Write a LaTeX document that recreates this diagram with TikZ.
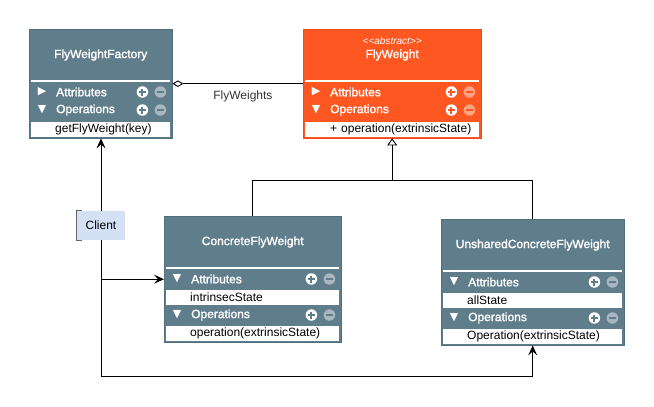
\documentclass[tikz,border=0pt]{standalone}
\usepackage{fontspec}
\setmainfont{Liberation Sans}
\newfontfamily\symbfont{DejaVu Sans}
\newfontfamily\headfont[FakeBold=1.6]{Liberation Sans}
\usepackage{tikz}
\usetikzlibrary{arrows.meta,positioning}
\definecolor{slate}{HTML}{607D8B}
\definecolor{slateedge}{HTML}{52707E}
\definecolor{flame}{HTML}{FF5722}
\definecolor{flameedge}{HTML}{F04A16}
\definecolor{noteblue}{HTML}{D4E1F5}
\definecolor{notebrack}{HTML}{666666}

\tikzstyle{cls} = [rectangle, draw=slateedge, fill=slate, inner sep=0, anchor=north west]
\tikzstyle{clsname} = [text=white, inner sep=0, font=\headfont\fontsize{12}{14}\selectfont]
\tikzstyle{stereo} = [text=white, inner sep=0, font=\itshape\fontsize{10}{11}\selectfont]
\tikzstyle{sec} = [text=white, anchor=west, inner sep=0, font=\headfont\fontsize{12}{14}\selectfont]
\tikzstyle{tri} = [text=white, inner sep=0, font=\symbfont\fontsize{11}{12}\selectfont]
\tikzstyle{sepline} = [draw=white, line width=1.8pt]
\tikzstyle{assoc} = [draw=black, line width=0.9pt, {Diamond[fill=white,length=11pt,width=6.5pt]}-]
\tikzstyle{genline} = [draw=black, line width=0.9pt]
\tikzstyle{use} = [draw=black, line width=0.9pt, -{Stealth[length=10pt,width=9pt,inset=4pt]}]
\tikzstyle{edgelabel} = [text=black!80, font=\fontsize{12}{14}\selectfont]
\tikzstyle{note} = [rectangle, fill=noteblue, minimum width=48, minimum height=29, inner sep=0,
    font=\fontsize{12}{14}\selectfont]
\tikzstyle{notebracket} = [draw=notebrack, line width=1.2pt]
\tikzset{
  member/.style={fill=white, inner sep=0, minimum height=15, text width=#1, align=left,
    font=\fontsize{12}{14}\selectfont},
  plusbtn/.style={circle, fill=white, minimum size=11.5, inner sep=0,
    path picture={\draw[#1, line width=2pt]
      ([xshift=-3.5pt]path picture bounding box.center) -- ([xshift=3.5pt]path picture bounding box.center)
      ([yshift=-3.5pt]path picture bounding box.center) -- ([yshift=3.5pt]path picture bounding box.center);}},
  minusbtn/.style={circle, fill=#1!55!white, minimum size=11.5, inner sep=0,
    path picture={\draw[#1, line width=2pt]
      ([xshift=-3.5pt]path picture bounding box.center) -- ([xshift=3.5pt]path picture bounding box.center);}}
}
% one compartment header: box, y, triangle, label, colour
\newcommand{\secrow}[5]{
  \node[tri] (#1#4tri) at ([xshift=13pt]#1.west |- 0,#2) {#3};
  \node[sec] (#1#4) at ([xshift=27pt]#1.west |- 0,#2) {#4};
  \node[plusbtn=#5] (#1#4plus) at ([xshift=-30pt]#1.east |- 0,#2) {};
  \node[minusbtn=#5] (#1#4minus) at ([xshift=-12pt]#1.east |- 0,#2) {};
}

\begin{document}
\begin{tikzpicture}[x=1pt,y=-1pt]
  \useasboundingbox (0,0) rectangle (654,407);

  % classes
  \node[cls, minimum width=143, minimum height=109] (fac) at (29,29) {};
  \node[cls, fill=flame, draw=flameedge, minimum width=178, minimum height=109] (fly) at (303,29) {};
  \node[cls, minimum width=177, minimum height=126] (con) at (164,216) {};
  \node[cls, minimum width=183, minimum height=126] (uns) at (441,219) {};

  \node[clsname] (facname) at (fac.center |- 0,55) {FlyWeightFactory};
  \node[stereo] (flystereo) at (fly.center |- 0,41) {{<}{<}abstract{>}{>}};
  \node[clsname] (flyname) at (fly.center |- 0,55) {FlyWeight};
  \node[clsname] (conname) at (con.center |- 0,242) {ConcreteFlyWeight};
  \node[clsname] (unsname) at (uns.center |- 0,245) {UnsharedConcreteFlyWeight};

  \draw[sepline] ([xshift=2pt]fac.west |- 0,81) -- ([xshift=-2pt]fac.east |- 0,81);
  \draw[sepline] ([xshift=2pt]fly.west |- 0,81) -- ([xshift=-2pt]fly.east |- 0,81);
  \draw[sepline] ([xshift=2pt]con.west |- 0,268) -- ([xshift=-2pt]con.east |- 0,268);
  \draw[sepline] ([xshift=2pt]uns.west |- 0,271) -- ([xshift=-2pt]uns.east |- 0,271);

  \secrow{fac}{92}{▶}{Attributes}{slate}
  \secrow{fac}{110}{▼}{Operations}{slate}
  \secrow{fly}{92}{▶}{Attributes}{flame}
  \secrow{fly}{110}{▼}{Operations}{flame}
  \secrow{con}{279}{▼}{Attributes}{slate}
  \secrow{con}{315}{▼}{Operations}{slate}
  \secrow{uns}{282}{▼}{Attributes}{slate}
  \secrow{uns}{318}{▼}{Operations}{slate}

  \node[member=139] (facop) at (fac.center |- 0,129.5) {\hspace*{24pt}getFlyWeight(key)};
  \node[member=174] (flyop) at (fly.center |- 0,129.5) {\hspace*{25pt}+ operation(extrinsicState)};
  \node[member=173] (conattr) at (con.center |- 0,297) {\hspace*{24pt}intrinsecState};
  \node[member=173] (conop) at (con.center |- 0,333) {\hspace*{24pt}operation(extrinsicState)};
  \node[member=179] (unsattr) at (uns.center |- 0,300) {\hspace*{24pt}allState};
  \node[member=179] (unsop) at (uns.center |- 0,336) {\hspace*{24pt}Operation(extrinsicState)};

  % connectors
  \draw[assoc] (fac.east) -- node[edgelabel, pos=0.54, below=3pt] (flylabel) {FlyWeights} (fly.west);
  \coordinate (gj) at (fly.south |- 0,180);
  \draw[genline] (con.north) -- (con.north |- gj) -| (uns.north);
  \draw[genline, -{Triangle[fill=white,length=7pt,width=10pt]}] (gj) -- (fly.south);

  \coordinate (cbot) at (101,376);
  \draw[use] (cbot) -- (cbot |- fac.south);
  \draw[use] (cbot) -| (uns.south);
  \draw[use] (cbot |- con.west) -- (con.west);

  \node[note] (client) at (101,225.5) {Client};
  \draw[notebracket] ([xshift=5pt]client.north west) -- (client.north west)
    -- (client.south west) -- ([xshift=5pt]client.south west);
\end{tikzpicture}
\end{document}
